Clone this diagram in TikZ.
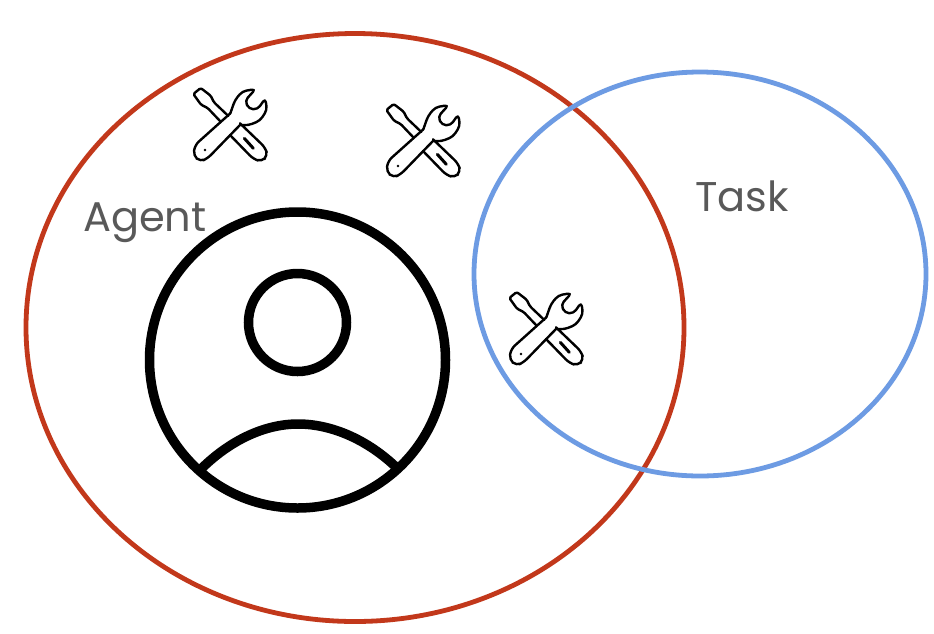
\documentclass[tikz,border=0pt]{standalone}
\usepackage{fontspec}
\setmainfont{Poppins}
\definecolor{agentred}{HTML}{C2381B}
\definecolor{taskblue}{HTML}{6D9BE3}
\definecolor{labelgrey}{HTML}{595959}
\tikzset{
  venn/.style={line width=4.8pt},
  person/.style={draw=black,line width=9.5pt},
  lab/.style={text=labelgrey,font=\fontsize{41.5}{48}\selectfont,inner sep=0pt},
  tools/.pic={
    \begin{scope}[x=0.3333pt,y=-0.3333pt,line width=2.4pt,line join=round,line cap=round]
      % screwdriver
      \draw[rounded corners=1.5pt] (106,124) -- (68,84) -- (48,74) -- (25,42) -- (47,24) -- (77,47) -- (87,67) -- (130,108);
      \draw[rounded corners=5pt] (135,165) -- (205,237) -- (230,245) -- (248,227) -- (241,203) -- (165,130);
      \draw[line width=3pt] (178,175) -- (205,205);
      % wrench
      \draw[rounded corners=4pt] (165,135) -- (190,136) -- (225,122) -- (246,90) -- (241,55) -- (218,88) -- (192,87) -- (180,62) -- (212,27) -- (172,34) -- (150,60) -- (136,100);
      \draw[rounded corners=5pt] (136,100) -- (30,195) -- (25,227) -- (46,245) -- (68,235) -- (165,135);
      \fill (60,210) circle (4);
    \end{scope}
  }
}
\begin{document}
\begin{tikzpicture}[x=1pt,y=-1pt]
  \useasboundingbox (0,0) rectangle (934,633);
  \fill[white] (0,0) rectangle (934,633);
  \coordinate (shoulderL) at (200,470);
  \coordinate (shoulderR) at (397,468);
  \draw[venn,draw=agentred] (355,327.5) ellipse [x radius=329,y radius=294];
  \draw[venn,draw=taskblue] (700,274) ellipse [x radius=226,y radius=202];
  \draw[person] (297.5,360) circle (148);
  \draw[person] (297.5,322.5) circle (49);
  \draw[person] (shoulderL) .. controls (230,440) and (265,424) .. (298,424) .. controls (332,424) and (368,440) .. (shoulderR);
  \pic at (185,80) {tools};
  \pic at (378,96) {tools};
  \pic at (501,284) {tools};
  \node[lab,anchor=base west] (agent) at (83,231) {Agent};
  \node[lab,anchor=base west] (task) at (695,211) {Task};
\end{tikzpicture}
\end{document}
